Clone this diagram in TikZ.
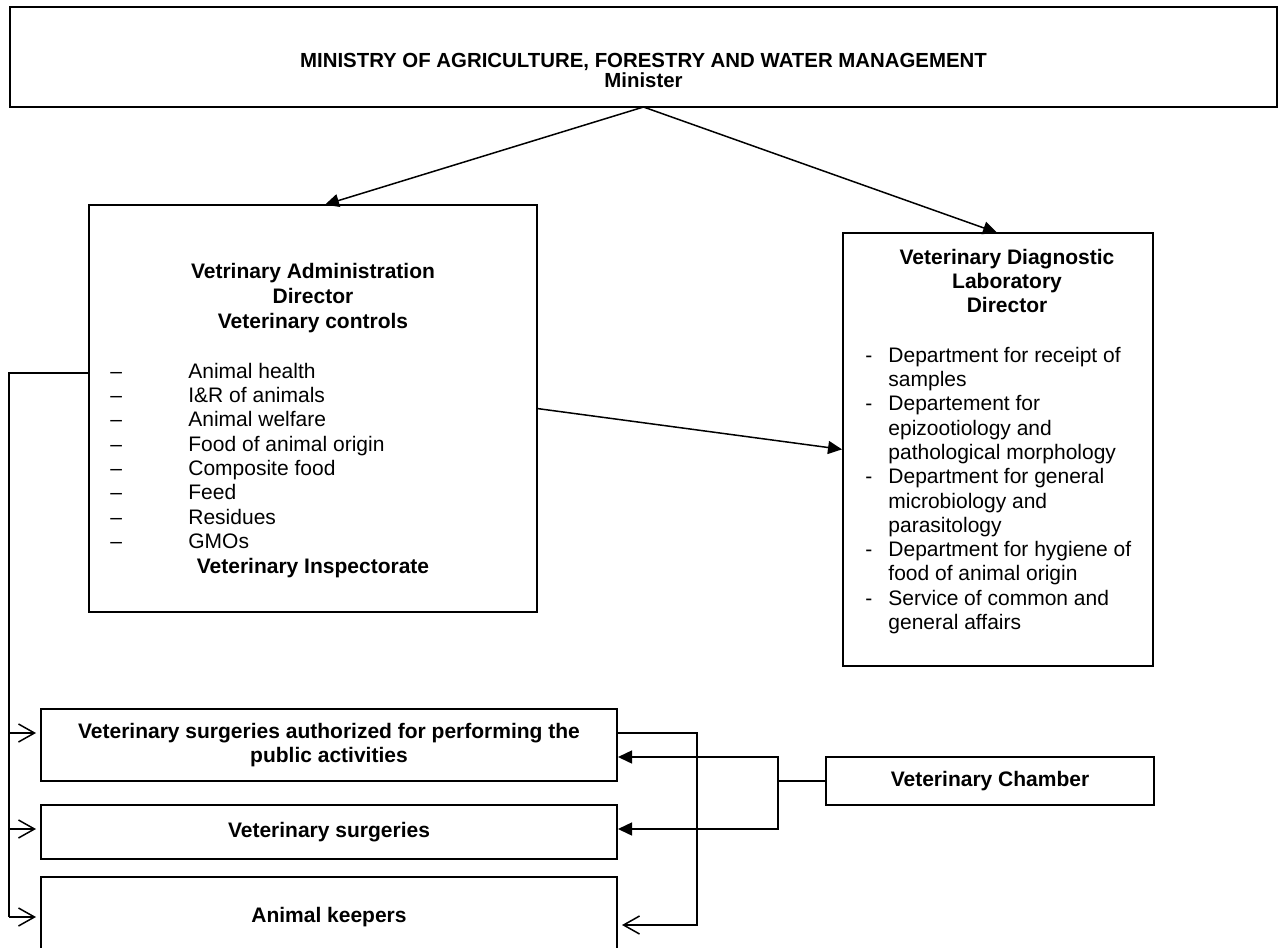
\documentclass[tikz,border=0pt]{standalone}
\usepackage{fontspec}
\setmainfont{Liberation Sans}
\usetikzlibrary{arrows.meta,calc}

\begin{document}
\begin{tikzpicture}[x=0.5pt,y=-0.5pt,
  box/.style={draw, line width=0.75pt, inner sep=0pt, outer sep=0pt},
  ttl/.style={font=\fontsize{10.5pt}{12pt}\selectfont\bfseries, inner sep=0pt, anchor=mid},
  head/.style={font=\fontsize{10.2pt}{12pt}\selectfont\bfseries, inner sep=0pt, anchor=mid},
  itm/.style={font=\fontsize{10.5pt}{12pt}\selectfont, inner sep=0pt, anchor=mid west},
  wire/.style={line width=0.75pt},
  solidtip/.style={wire, -{Triangle[length=7pt,width=6.5pt]}, shorten >=0.5pt},
  opentip/.style={wire, -{Straight Barb[length=8pt,width=9pt]}, shorten >=2.5pt},
]
% page
\fill[white] (0,0) rectangle (1284,947);
\useasboundingbox (0,0) rectangle (1284,947);
\clip (0,0) rectangle (1284,947);

% ---- boxes ----
\node[box, minimum width=633.5pt, minimum height=50pt]  (top) at (643.5,57)  {};
\node[box, minimum width=224pt,   minimum height=203.5pt] (va)  at (313,408.5) {};
\node[box, minimum width=155pt,   minimum height=216.5pt] (vdl) at (998,449.5) {};
\node[box, minimum width=288pt,   minimum height=36pt]  (vsa) at (329,745)  {};
\node[box, minimum width=288pt,   minimum height=27pt]  (vs)  at (329,832)  {};
\node[box, minimum width=288pt,   minimum height=40pt]  (ak)  at (329,917)  {};
\node[box, minimum width=164pt,   minimum height=24pt]  (vc)  at (990,781)  {};

% ---- ministry ----
\node[head] (topA) at (643.5,62) {MINISTRY OF AGRICULTURE, FORESTRY AND WATER MANAGEMENT};
\node[head] (topB) at (643.5,82) {Minister};

% ---- veterinary administration ----
\node[ttl] (vaA) at (313,273) {Vetrinary Administration};
\node[ttl] (vaB) at (313,298) {Director};
\node[ttl] (vaC) at (313,323) {Veterinary controls};
\foreach \t [count=\k from 0] in {Animal health, I\&R of animals, Animal welfare,
    Food of animal origin, Composite food, Feed, Residues, GMOs} {
  \node[itm] (vad\k) at (110,373+24.3*\k) {–};
  \node[itm] (vat\k) at (188,373+24.3*\k) {\t};
}
\node[ttl] (vaD) at (313,568) {Veterinary Inspectorate};

% ---- diagnostic laboratory ----
\node[ttl] (vdlA) at (1007,259) {Veterinary Diagnostic};
\node[ttl] (vdlB) at (1007,283) {Laboratory};
\node[ttl] (vdlC) at (1007,307) {Director};
\foreach \t [count=\k from 0] in {Department for receipt of, samples,
    Departement for, epizootiology and, pathological morphology,
    Department for general, microbiology and, parasitology,
    Department for hygiene of, food of animal origin,
    Service of common and, general affairs} {
  \node[itm] (vdlt\k) at (888,357+24.3*\k) {\t};
}
\foreach \k in {0,2,5,8,10} {
  \node[itm] (vdld\k) at (865,357+24.3*\k) {-};
}

% ---- lower boxes ----
\node[ttl] (vsaA) at (329,733) {Veterinary surgeries authorized for performing the};
\node[ttl] (vsaB) at (329,757) {public activities};
\node[ttl] (vsA)  at (329,832) {Veterinary surgeries};
\node[ttl] (akA)  at (329,917) {Animal keepers};
\node[ttl] (vcA)  at (990,781) {Veterinary Chamber};

% ---- connectors from the ministry ----
\draw[solidtip] (top.south) -- ($(va.north)+(11,0)$);
\draw[solidtip] (top.south) -- (vdl.north);
\draw[solidtip] (va.east) -- (vdl.west);

% ---- left bus from the administration ----
\coordinate (busfoot) at (9,917);
\coordinate (b1) at ($(vsa.west)+(0,-12)$);
\coordinate (b2) at ($(vs.west)+(0,-3)$);
\draw[wire] ($(va.north west)+(0,168)$) -| (busfoot);
\draw[opentip] (b1 -| busfoot) -- (b1);
\draw[opentip] (b2 -| busfoot) -- (b2);
\draw[opentip] (busfoot) -- (ak.west);

% ---- loop from authorized surgeries to animal keepers ----
\coordinate (r1) at ($(vsa.east)+(0,-12)$);
\coordinate (r3) at ($(ak.east)+(0,8)$);
\draw[opentip] (r1) -- ++(80,0) |- (r3);

% ---- veterinary chamber ----
\coordinate (cj) at ($(vc.west)+(-48,0)$);
\coordinate (c1) at ($(vsa.east)+(0,12)$);
\coordinate (c2) at ($(vs.east)+(0,-3)$);
\draw[wire] (vc.west) -- (cj);
\draw[solidtip] (cj) |- (c1);
\draw[solidtip] (cj) |- (c2);
\end{tikzpicture}
\end{document}
